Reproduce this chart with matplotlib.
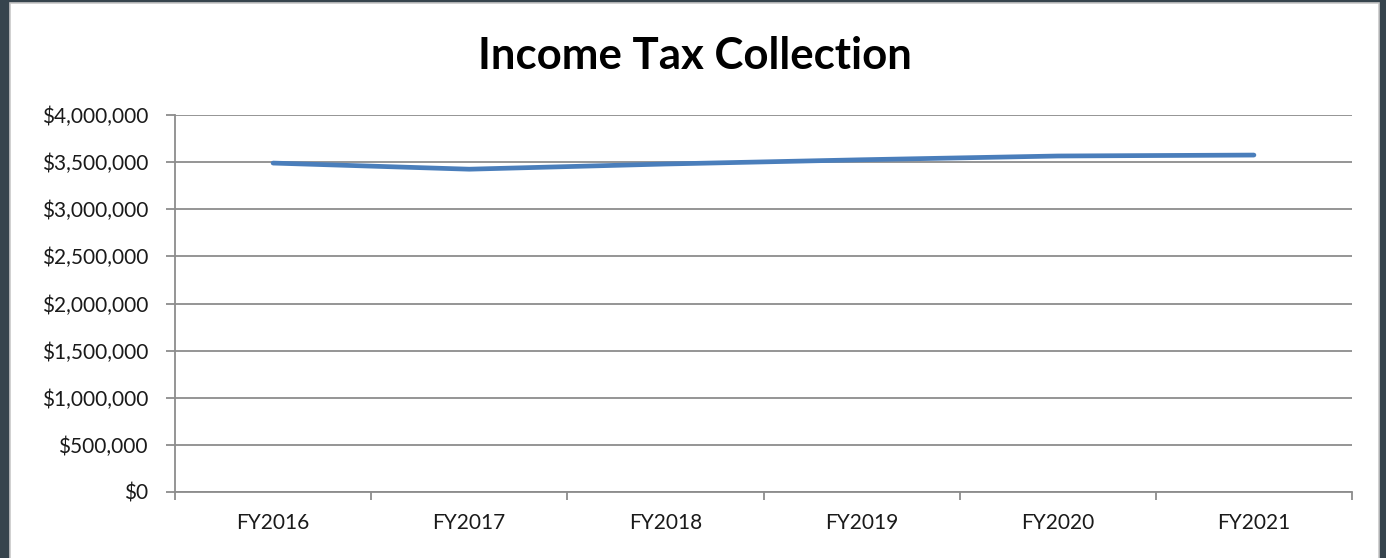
import matplotlib.pyplot as plt
import matplotlib.ticker as mticker
from matplotlib.patches import Rectangle

# -----------------------------
# Data
# -----------------------------
years = ["FY2016", "FY2017", "FY2018", "FY2019", "FY2020", "FY2021"]
collections = [3490000, 3425000, 3480000, 3525000, 3565000, 3575000]
y_ticks = [0, 500000, 1000000, 1500000, 2000000, 2500000, 3000000, 3500000, 4000000]

# -----------------------------
# Figure with dark frame
# -----------------------------
fig = plt.figure(figsize=(13.86, 5.58), dpi=100, facecolor="#36444d")
W, H = 1386, 558
fig.patches.append(Rectangle(
    (10 / W, -0.01), (1379 - 10) / W, (558 - 3) / H + 0.01,
    transform=fig.transFigure, facecolor="white",
    edgecolor="#c8c8c8", linewidth=1.2, zorder=-1
))

ax = fig.add_axes([175 / W, (558 - 492) / H, (1352 - 175) / W, (492 - 115) / H])
ax.set_zorder(1)
ax.set_facecolor("none")

x = list(range(len(years)))
ax.plot(x, collections, color="#4a7ebb", linewidth=3.4,
        solid_capstyle="round", solid_joinstyle="round", zorder=3)

# -----------------------------
# Axes styling
# -----------------------------
ax.set_xlim(-0.5, len(years) - 0.5)
ax.set_ylim(0, 4000000)
ax.set_yticks(y_ticks)
ax.yaxis.set_major_formatter(mticker.FuncFormatter(lambda v, p: f"${v:,.0f}"))
ax.grid(axis="y", color="#8c8c8c", linewidth=1.3)
ax.set_axisbelow(True)

# category boundaries as major ticks, labels on minor ticks
ax.set_xticks([i - 0.5 for i in range(len(years) + 1)])
ax.set_xticklabels([])
ax.set_xticks(x, minor=True)
ax.set_xticklabels(years, minor=True)
ax.tick_params(axis="x", which="major", length=6, width=1.3, color="#8c8c8c")
ax.tick_params(axis="x", which="minor", length=0, pad=15)
ax.tick_params(axis="y", length=6.5, width=1.3, color="#8c8c8c", pad=13)

for lbl in ax.get_xticklabels(minor=True) + ax.get_yticklabels():
    lbl.set_fontfamily("Lato")
    lbl.set_fontsize(15)
    lbl.set_color("#1a1a1a")

for side in ["top", "right"]:
    ax.spines[side].set_visible(False)
for side in ["left", "bottom"]:
    ax.spines[side].set_color("#8c8c8c")
    ax.spines[side].set_linewidth(1.3)

fig.text(695 / W, 1 - 56 / H, "Income Tax Collection", ha="center", va="center",
         fontsize=31.5, fontweight="bold", fontfamily="Lato", color="black")

fig.savefig("out.png", dpi=100, facecolor=fig.get_facecolor())
